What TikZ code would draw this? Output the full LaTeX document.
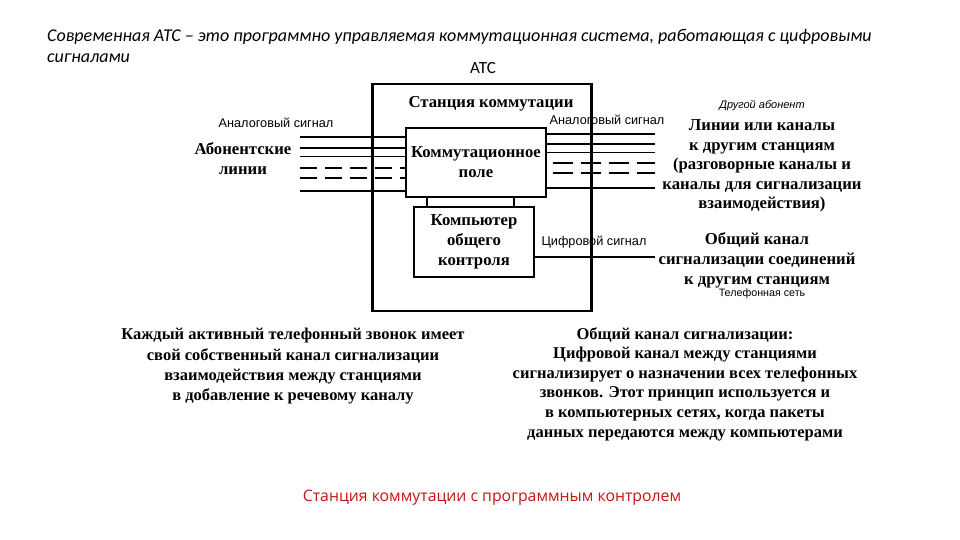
\documentclass[tikz,border=0pt]{standalone}
\usepackage{fontspec}
\setmainfont{Liberation Serif}
\newfontfamily\calfont{Carlito}
\newfontfamily\arfont{Liberation Sans}
\newfontfamily\opfont{Open Sans}
\definecolor{sigred}{RGB}{200,20,20}
\begin{document}
\begin{tikzpicture}[x=1pt,y=-1pt,
  serif/.style={inner sep=0pt,align=center,font=\fontsize{16.7}{20}\selectfont\bfseries},
  small/.style={inner sep=0pt,font=\arfont\fontsize{12.7}{14}\selectfont},
  boxs/.style={draw,line width=1.6pt,inner sep=0pt},
  lthick/.style={line width=2pt},
  lmid/.style={line width=1.5pt},
  lthin/.style={line width=1pt},
  dthick/.style={line width=2.6pt,dash pattern=on 17pt off 8pt},
  dmid/.style={line width=2pt,dash pattern=on 17pt off 8pt},
  rthick/.style={line width=2.6pt,dash pattern=on 20pt off 8pt},
  rmid/.style={line width=2.4pt,dash pattern=on 20pt off 8pt}]
\useasboundingbox (0,0) rectangle (960,540);
\fill[white] (0,0) rectangle (960,540);

% header
\node[anchor=west,inner sep=0pt,font=\calfont\itshape\fontsize{18}{20}\selectfont] (hdr1) at (47,37) {Современная АТС – это программно управляемая коммутационная система, работающая с цифровыми};
\node[anchor=west,inner sep=0pt,font=\calfont\itshape\fontsize{18}{20}\selectfont] (hdr2) at (47,58) {сигналами};
\node[inner sep=0pt,font=\calfont\fontsize{17}{19}\selectfont] (atc) at (483,68) {АТС};

% boxes
\node[boxs,minimum width=218pt,minimum height=227pt] (station) at (482,197.5) {};
\node[serif] (stitle) at (491,104) {Станция коммутации};
\node[boxs,minimum width=140pt,minimum height=69pt,serif] (field) at (476,162.5) {Коммутационное\\поле};
\node[boxs,minimum width=120pt,minimum height=70pt,serif] (comp) at (474,242) {Компьютер\\общего\\контроля};

\coordinate (c1t) at (427,197);
\coordinate (c2t) at (514,197);
\draw[line width=1.2pt] (c1t) -- (c1t |- comp.north);
\draw[line width=1.2pt] (c2t) -- (c2t |- comp.north);

% left lines
\coordinate (L1) at (300,137);
\coordinate (L2) at (300,148);
\coordinate (L3) at (300,157);
\coordinate (L4) at (300,168);
\coordinate (L5) at (300,178);
\coordinate (L6) at (300,191);
\draw[lthick] (L1) -- (L1 -| field.west);
\draw[lmid] (L2) -- (L2 -| field.west);
\draw[lthin] (L3) -- (L3 -| field.west);
\draw[dthick] (L4) -- (L4 -| field.west);
\draw[dmid] (L5) -- (L5 -| field.west);
\draw[lthick] (L6) -- (L6 -| field.west);

% right lines
\coordinate (R1) at (655,134);
\coordinate (R2) at (655,144);
\coordinate (R3) at (655,153);
\coordinate (R4) at (655,163);
\coordinate (R5) at (655,173);
\coordinate (R6) at (655,188);
\draw[lthick] (R1 -| field.east) -- (R1);
\draw[lthick] (R2 -| field.east) -- (R2);
\draw[lthin] (R3 -| field.east) -- (R3);
\draw[rthick] (R4 -| field.east) ++(6,0) -- (R4);
\draw[rmid] (R5 -| field.east) ++(6,0) -- (R5);
\draw[lthick] (R6 -| field.east) -- (R6);

% digital signal line
\coordinate (D) at (655,257);
\draw[lthick] (D -| comp.east) -- (D);

% station borders on top
\draw[line width=1.6pt] (station.north east) -- (station.south east);
\draw[line width=1.6pt] (station.north west) -- (station.south west);

% labels
\node[small] (alo) at (276,123) {Аналоговый сигнал};
\node[serif] (abon) at (243,159) {Абонентские\\линии};
\node[small] (aro) at (607,120) {Аналоговый сигнал};
\node[inner sep=0pt,font=\arfont\itshape\fontsize{11}{13}\selectfont] (other) at (762,106) {Другой абонент};
\node[serif,font=\fontsize{16.7}{19.5}\selectfont\bfseries] (lines) at (762,166) {Линии или каналы\\к другим станциям\\(разговорные каналы и\\каналы для сигнализации\\взаимодействия)};
\node[small] (dig) at (594,242) {Цифровой сигнал};
\node[serif] (common) at (757,260) {Общий канал\\сигнализации соединений\\к другим станциям};
\node[inner sep=0pt,font=\arfont\fontsize{10.7}{12}\selectfont] (net) at (762,294) {Телефонная сеть};

\node[serif,font=\fontsize{16.5}{20.3}\selectfont\bfseries] (each) at (293,366.5) {Каждый активный телефонный звонок имеет\\свой собственный канал сигнализации\\взаимодействия между станциями\\в добавление к речевому каналу};
\node[serif,font=\fontsize{16.5}{19.6}\selectfont\bfseries] (ccs) at (685,384) {Общий канал сигнализации:\\Цифровой канал между станциями\\сигнализирует о назначении всех телефонных\\звонков. Этот принцип используется и\\в компьютерных сетях, когда пакеты\\данных передаются между компьютерами};

\node[inner sep=0pt,text=sigred,font=\opfont\fontsize{15.8}{18}\selectfont] (caption) at (492,498) {Станция коммутации с программным контролем};
\end{tikzpicture}
\end{document}
